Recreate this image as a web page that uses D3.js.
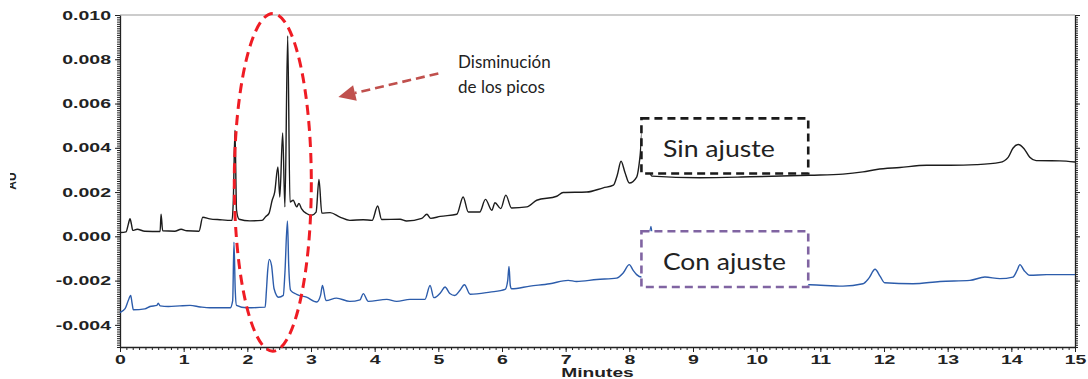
<!DOCTYPE html>
<html>
<head>
<meta charset="utf-8">
<script src="https://cdn.jsdelivr.net/npm/d3@7"></script>
<style>
body { margin: 0; background: #fff; }
svg { display: block; }
</style>
</head>
<body>
<div id="chart"></div>
<script>
const width = 1088
const height = 379

// Sin ajuste (black trace), minutes / AU
const sinTime = [0,0.094,0.13,0.157,0.18,0.2,0.27,0.39,0.63,0.645,0.67,0.86,0.96,1.05,1.24,1.3,1.41,1.57,1.76,1.78,1.806,1.83,1.87,2.04,2.23,2.29,2.34,2.39,2.43,2.48,2.51,2.555,2.59,2.634,2.67,2.72,2.775,2.81,2.85,2.93,3.01,3.08,3.125,3.17,3.3,3.455,3.61,3.82,3.96,4.047,4.11,4.4,4.5,4.74,4.82,4.88,5.03,5.29,5.39,5.47,5.65,5.74,5.84,5.89,5.98,6.06,6.15,6.39,6.545,6.86,6.96,7.33,7.59,7.75,7.81,7.87,7.93,8.0,8.115,8.17,8.21,8.28,8.355,9.11,9.895,10.84,11.355,11.67,11.885,12.25,12.67,13.04,13.455,13.82,13.95,14.025,14.11,14.2,14.29,14.39,14.76,15.0]
const sinValue = [0.00017,0.0002,0.00054,0.0008,0.00054,0.00027,0.00032,0.00023,0.00022,0.001,0.00025,0.00023,0.00032,0.00025,0.00023,0.00086,0.00079,0.00075,0.00072,0.00163,0.0048,0.00118,0.00077,0.0007,0.00072,0.0009,0.00104,0.00163,0.002,0.00314,0.00178,0.00467,0.00133,0.00905,0.00155,0.00163,0.00133,0.00149,0.00125,0.00103,0.00095,0.00109,0.00257,0.00105,0.00107,0.00087,0.00072,0.00075,0.00072,0.00137,0.00076,0.00077,0.00069,0.00081,0.001,0.00081,0.0009,0.001,0.00178,0.0011,0.0011,0.00167,0.00118,0.00152,0.00125,0.00186,0.00128,0.00133,0.00163,0.00181,0.00198,0.002,0.00219,0.00231,0.00276,0.00339,0.0029,0.00241,0.00268,0.00367,0.005,0.00344,0.00272,0.00265,0.00269,0.00276,0.00281,0.00291,0.00302,0.00311,0.00321,0.00321,0.00324,0.00334,0.00357,0.00398,0.00415,0.00396,0.00357,0.00342,0.00341,0.00336]

// Con ajuste (blue trace)
const conTime = [0,0.08,0.13,0.168,0.19,0.21,0.39,0.47,0.58,0.6,0.63,0.76,0.94,1.1,1.26,1.41,1.73,1.77,1.79,1.81,1.83,1.99,2.28,2.3,2.32,2.345,2.38,2.42,2.49,2.565,2.59,2.63,2.65,2.68,2.775,2.93,3.09,3.15,3.18,3.235,3.4,3.61,3.77,3.82,3.9,4.19,4.345,4.555,4.79,4.87,4.93,5.04,5.105,5.18,5.26,5.34,5.41,5.5,5.81,6.05,6.09,6.11,6.13,6.15,6.44,6.75,7.04,7.17,7.49,7.8,7.9,8.0,8.06,8.115,8.19,8.29,8.34,8.39,8.48,9.11,9.895,10.84,11.355,11.67,11.76,11.86,11.94,12.01,12.455,12.88,13.35,13.585,13.82,14.025,14.09,14.135,14.2,14.29,14.555,15.0]
const conValue = [-0.00344,-0.00327,-0.0029,-0.00267,-0.00303,-0.00332,-0.00328,-0.00317,-0.00312,-0.00302,-0.00314,-0.00317,-0.00314,-0.00312,-0.00319,-0.00323,-0.00323,-0.0029,-0.00026,-0.00244,-0.00312,-0.00323,-0.0032,-0.00244,-0.00154,-0.00104,-0.00131,-0.00237,-0.00275,-0.00267,-0.00167,0.00069,-0.00131,-0.00244,-0.00262,-0.00275,-0.00297,-0.00267,-0.00222,-0.0029,-0.00279,-0.00294,-0.00287,-0.00259,-0.00294,-0.00285,-0.00294,-0.00285,-0.00285,-0.00222,-0.00277,-0.00253,-0.00229,-0.00258,-0.00267,-0.00244,-0.00219,-0.00262,-0.00252,-0.0024,-0.00199,-0.00136,-0.00222,-0.00237,-0.00225,-0.00214,-0.00199,-0.00204,-0.00195,-0.00189,-0.00167,-0.00128,-0.00154,-0.00173,-0.00184,-0.00063,0.00045,-0.00109,-0.00199,-0.00213,-0.00217,-0.00219,-0.00225,-0.00214,-0.0019,-0.00149,-0.00181,-0.0021,-0.00214,-0.00204,-0.00199,-0.00184,-0.00191,-0.00184,-0.00154,-0.00128,-0.00154,-0.00176,-0.00173,-0.00173]

const xTicks = d3.range(0,16)
const yTicks = [-0.004,-0.002,0,0.002,0.004,0.006,0.008,0.010]
const xLabel = "Minutes"
const yLabel = "AU"

const svg = d3.select("#chart").append("svg")
.attr("width",width)
.attr("height",height)
.style("font-family","'Liberation Sans', Arial, sans-serif")

const x = d3.scaleLinear().domain([0,15]).range([120,1075])
const y = d3.scaleLinear().domain([-0.005,0.010]).range([347,15])

// frame: gray top line
svg.append("line")
.attr("x1",x(0)).attr("x2",x(15))
.attr("y1",y(0.010)).attr("y2",y(0.010))
.attr("stroke","#9a9a9a").attr("stroke-width",1.2)

// minor ticks
const xMinor = d3.range(0,150.5).map(d=>d/10)
const yMinor = d3.range(-50,100.5).map(d=>d/10000)

function minor(axis){
  return g => {
    g.call(axis)
    g.select(".domain").remove()
    g.selectAll("line").attr("stroke","#222")
  }
}
svg.append("g").attr("transform",`translate(0,${y(-0.005)})`)
.call(minor(d3.axisBottom(x).tickValues(xMinor).tickSize(3).tickFormat("")))
svg.append("g").attr("transform",`translate(${x(0)},0)`)
.call(minor(d3.axisLeft(y).tickValues(yMinor).tickSize(3).tickFormat("")))
svg.append("g").attr("transform",`translate(${x(15)},0)`)
.call(minor(d3.axisRight(y).tickValues(yMinor).tickSize(3).tickFormat("")))

// main axes
const xAxis = svg.append("g")
.attr("transform",`translate(0,${y(-0.005)})`)
.call(d3.axisBottom(x).tickValues(xTicks).tickSize(5).tickSizeOuter(0).tickFormat(d=>d))
const yAxis = svg.append("g")
.attr("transform",`translate(${x(0)},0)`)
.call(d3.axisLeft(y).tickValues(yTicks).tickSize(5).tickSizeOuter(0).tickFormat(d=>d.toFixed(3)))
const rAxis = svg.append("g")
.attr("transform",`translate(${x(15)},0)`)
.call(d3.axisRight(y).tickValues(yTicks).tickSize(5).tickSizeOuter(0).tickFormat(""))

for (const g of [xAxis,yAxis,rAxis]) {
  g.select(".domain").attr("stroke","#222").attr("stroke-width",1.3)
  g.selectAll(".tick line").attr("stroke","#222")
}
xAxis.selectAll("text")
.attr("fill","#222").attr("font-size",13).attr("font-weight","bold")
.attr("transform","scale(1.5,1)")
yAxis.selectAll("text")
.attr("fill","#222").attr("font-size",13).attr("font-weight","bold")
.attr("x",-6).attr("transform","scale(1.5,1)")

svg.append("text")
.attr("transform",`translate(${(x(0)+x(15))/2},377) scale(1.6,1)`)
.attr("text-anchor","middle")
.attr("font-size",12).attr("font-weight","bold").attr("fill","#222")
.text(xLabel)

// y label, mostly cut off at the left edge as in the source
svg.append("clipPath").attr("id","ylab")
.append("rect").attr("x",10).attr("y",150).attr("width",12).attr("height",60)
svg.append("g").attr("clip-path","url(#ylab)")
.append("text")
.attr("transform",`translate(16,${y(0.0025)}) rotate(-90)`)
.attr("text-anchor","middle")
.attr("font-size",12).attr("font-weight","bold").attr("fill","#222")
.text(yLabel)

// traces
const line = d3.line().x(d=>x(d[0])).y(d=>y(d[1])).curve(d3.curveMonotoneX)

svg.append("path")
.datum(sinTime.map((t,i)=>[t,sinValue[i]]))
.attr("d",line)
.attr("fill","none").attr("stroke","#1c1c1c").attr("stroke-width",1.4)

svg.append("path")
.datum(conTime.map((t,i)=>[t,conValue[i]]))
.attr("d",line)
.attr("fill","none").attr("stroke","#2c5cab").attr("stroke-width",1.4)

// annotation boxes
const boxes = [
  { label:"Sin ajuste", t0:8.19, t1:10.81, v0:0.00533, v1:0.00284, vText:0.00359, color:"#1a1a1a", w:112 },
  { label:"Con ajuste", t0:8.19, t1:10.81, v0:0.00023, v1:-0.00229, vText:-0.00154, color:"#8064a2", w:123 }
]
boxes.forEach(b=>{
  svg.append("rect")
  .attr("x",x(b.t0)).attr("y",y(b.v0))
  .attr("width",x(b.t1)-x(b.t0)).attr("height",y(b.v1)-y(b.v0))
  .attr("fill","#fff").attr("stroke",b.color)
  .attr("stroke-width",2.6).attr("stroke-dasharray","8,5")
  svg.append("text")
  .attr("x",x(b.t0)+21.5).attr("y",y(b.vText))
  .attr("font-family","Lato, 'Open Sans', sans-serif")
  .attr("font-size",24).attr("fill","#222")
  .attr("textLength",b.w).attr("lengthAdjust","spacingAndGlyphs")
  .text(b.label)
})

// red ellipse
svg.append("ellipse")
.attr("cx",x(2.4)).attr("cy",y(0.00244))
.attr("rx",x(2.4+0.605)-x(2.4)).attr("ry",y(0.00244-0.00763)-y(0.00244))
.attr("fill","none").attr("stroke","#ef1c24")
.attr("stroke-width",3).attr("stroke-dasharray","10,6")

// arrow
const tail = [x(5.0),y(0.00736)]
const tip = [x(3.43),y(0.0063)]
const ang = Math.atan2(tip[1]-tail[1],tip[0]-tail[0])
const headLen = 17, headW = 8
const base = [tip[0]-headLen*Math.cos(ang),tip[1]-headLen*Math.sin(ang)]
svg.append("line")
.attr("x1",tail[0]).attr("y1",tail[1])
.attr("x2",base[0]).attr("y2",base[1])
.attr("stroke","#c0504d").attr("stroke-width",2.6).attr("stroke-dasharray","9,5")
svg.append("path")
.attr("d",`M${tip[0]},${tip[1]}L${base[0]+headW*Math.sin(ang)},${base[1]-headW*Math.cos(ang)}L${base[0]-headW*Math.sin(ang)},${base[1]+headW*Math.cos(ang)}Z`)
.attr("fill","#c0504d")

const note = svg.append("text")
.attr("font-family","Lato, 'Open Sans', sans-serif")
.attr("font-size",17).attr("fill","#222")
note.append("tspan").attr("x",x(5.31)).attr("y",y(0.00759)).text("Disminución")
note.append("tspan").attr("x",x(5.31)).attr("y",y(0.00646)).text("de los picos")
</script>
</body>
</html>
